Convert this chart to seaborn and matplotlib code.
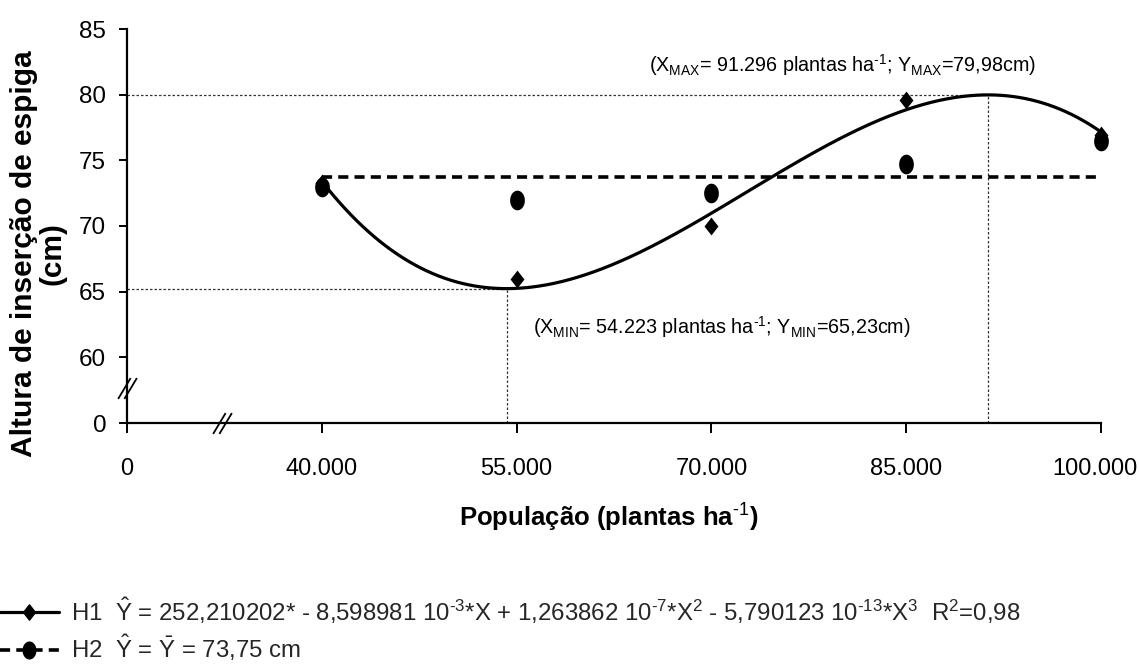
import numpy as np
import matplotlib
matplotlib.use("Agg")
import matplotlib.pyplot as plt
import matplotlib.transforms as mtransforms
from matplotlib import font_manager
from matplotlib.lines import Line2D
from matplotlib.path import Path
import seaborn as sns

# Plant populations (plants per hectare) and observed ear insertion heights (cm)
populacao = [40000, 55000, 70000, 85000, 100000]
h1_altura = [73.3, 66.0, 70.0, 79.6, 76.9]
h2_altura = [73.0, 72.0, 72.5, 74.75, 76.5]

# Fitted models: cubic for H1, mean for H2
h1_coef = [252.210202, -8.598981e-3, 1.263862e-7, -5.790123e-13]
h2_media = 73.75
x_max, y_max = 91296, 79.98
x_min, y_min = 54223, 65.23

# Axis ticks (the first tick of each axis stands for the broken origin)
x_ticks = [25000, 40000, 55000, 70000, 85000, 100000]
x_ticklabels = ["0", "40.000", "55.000", "70.000", "85.000", "100.000"]
y_ticks = [55, 60, 65, 70, 75, 80, 85]
y_ticklabels = ["0", "60", "65", "70", "75", "80", "85"]

sns.set_theme(style="white")
available = {f.name for f in font_manager.fontManager.ttflist}
NARROW = "Liberation Sans Narrow" if "Liberation Sans Narrow" in available else "Liberation Sans"
WIDE = "Liberation Sans"
plt.rcParams["font.family"] = [NARROW, "DejaVu Sans"]
plt.rcParams["mathtext.fontset"] = "custom"
plt.rcParams["mathtext.rm"] = NARROW
plt.rcParams["mathtext.it"] = NARROW
plt.rcParams["mathtext.bf"] = NARROW + ":bold"

W, H = 1139, 666
fig = plt.figure(figsize=(W / 100, H / 100), dpi=100)
ax = fig.add_axes([127 / W, 1 - 423 / H, (1101 - 127) / W, (423 - 29) / H])
ax.set_xlim(25000, 100000)
ax.set_ylim(55, 85)

# Marker shapes: slightly tall diamond and tall ellipse
diamond = Path([(0, 1), (0.78, 0), (0, -1), (-0.78, 0), (0, 1)],
               [Path.MOVETO, Path.LINETO, Path.LINETO, Path.LINETO, Path.CLOSEPOLY])
t = np.linspace(0, 2 * np.pi, 60)
ellipse = Path(np.column_stack([0.75 * np.cos(t), np.sin(t)]), closed=True)
slashes = Path([(-0.45, -0.5), (0.15, 0.5), (-0.15, -0.5), (0.45, 0.5)],
               [Path.MOVETO, Path.LINETO, Path.MOVETO, Path.LINETO])

# Reference lines for the curve's extremes
ref = dict(color="#333333", lw=0.9, ls=(0, (2, 1.6)), zorder=1)
ax.plot([25000, x_max], [y_max, y_max], **ref)
ax.plot([x_max, x_max], [55, y_max], **ref)
ax.plot([25000, x_min], [y_min, y_min], **ref)
ax.plot([x_min, x_min], [55, y_min], **ref)

# H1 cubic fit
xs = np.linspace(populacao[0], populacao[-1], 400)
ys = np.polyval(h1_coef[::-1], xs)
sns.lineplot(x=xs, y=ys, ax=ax, color="black", lw=2.3, estimator=None, sort=False, zorder=3)

# H2 mean line
dash = (0, (2.8, 1.7))
sns.lineplot(x=[populacao[0], populacao[-1]], y=[h2_media, h2_media], ax=ax,
             color="black", lw=2.6, linestyle=dash, estimator=None, zorder=3)

# Observed points
sns.scatterplot(x=populacao, y=h1_altura, ax=ax, marker=diamond, s=165,
                color="black", edgecolor="black", linewidth=0, zorder=4, clip_on=False)
sns.scatterplot(x=populacao, y=h2_altura, ax=ax, marker=ellipse, s=200,
                color="black", edgecolor="black", linewidth=0, zorder=5, clip_on=False)

# Axes styling
for side in ("top", "right"):
    ax.spines[side].set_visible(False)
for side in ("left", "bottom"):
    ax.spines[side].set_color("black")
    ax.spines[side].set_linewidth(1.6)
ax.set_xticks(x_ticks, x_ticklabels)
ax.set_yticks(y_ticks, y_ticklabels)
ax.tick_params(axis="x", direction="out", length=7, width=1.4, pad=18,
               labelsize=17, colors="black", bottom=True)
ax.tick_params(axis="y", direction="out", length=6, width=1.4, pad=9,
               labelsize=17.5, colors="black", left=True)
ax.grid(False)
# keep the last population label inside the canvas
last = ax.get_xticklabels()[-1]
last.set_transform(last.get_transform() + mtransforms.ScaledTranslation(-6 / 100, 0, fig.dpi_scale_trans))

# Axis break marks
ax.plot([25000], [57.65], marker=slashes, ms=15, mew=1.3, color="black",
        fillstyle="none", clip_on=False, zorder=6)
ax.plot([32300], [55], marker=slashes, ms=15, mew=1.3, color="black",
        fillstyle="none", clip_on=False, zorder=6)

# Extreme-point annotations
ax.text(80100, 82.25, r"(X$_{\mathrm{MAX}}$= 91.296 plantas ha$^{\text{-1}}$; Y$_{\mathrm{MAX}}$=79,98cm)",
        ha="center", va="center", fontsize=14.2, color="black")
ax.text(70800, 62.3, r"(X$_{\mathrm{MIN}}$= 54.223 plantas ha$^{\text{-1}}$; Y$_{\mathrm{MIN}}$=65,23cm)",
        ha="center", va="center", fontsize=14.2, color="black")

# Axis titles
ax.set_xlabel(r"População (plantas ha$^{\mathbf{\text{-1}}}$)", fontsize=18.5, fontweight="bold", color="black")
ax.xaxis.set_label_coords(0.495, -0.2)
ax.set_ylabel("Altura de inserção de espiga\n(cm)", fontsize=21.5, fontweight="bold",
              family=[WIDE, "DejaVu Sans"], color="black", linespacing=1.05)
ax.yaxis.set_label_coords(-0.062, 0.43)

# Legend with the fitted equations
h1_handle = Line2D([], [], color="black", lw=2.3, marker=diamond, ms=11)
h2_handle = Line2D([], [], color="black", lw=2.6, linestyle=dash, marker=ellipse, ms=12)
h1_label = (r"H1  $\hat{\mathrm{Y}}$ = 252,210202* - 8,598981 10$^{\text{-3}}$*X + 1,263862 10$^{\text{-7}}$*X$^{\mathrm{2}}$"
            r" - 5,790123 10$^{\text{-13}}$*X$^{\mathrm{3}}$  R$^{\mathrm{2}}$=0,98")
h2_label = r"H2  $\hat{\mathrm{Y}}$ = $\bar{\mathrm{Y}}$ = 73,75 cm"
fig.legend([h1_handle, h2_handle], [h1_label, h2_label], loc="upper left",
           bbox_to_anchor=(0.0, 1 - 595 / H), frameon=False, fontsize=17.3,
           handlelength=2.45, handletextpad=0.5, borderpad=0, borderaxespad=0,
           labelspacing=0.3)

fig.savefig("out.png", dpi=100, facecolor="white")
